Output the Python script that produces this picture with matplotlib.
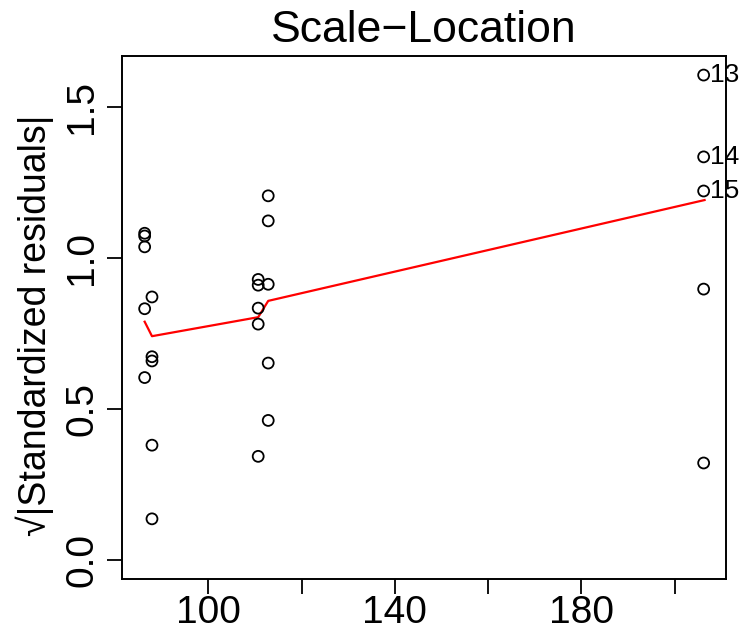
import matplotlib
matplotlib.use("Agg")
from matplotlib import pyplot as plt
import numpy as np

plt.rcParams['font.family'] = ['Liberation Sans', 'DejaVu Sans']

# values (fitted values vs sqrt|standardized residuals|)
obsIds = list(range(1, 26))
fitted = [86.36, 86.36, 86.36, 86.36, 86.36,
          87.93, 87.93, 87.93, 87.93, 87.93,
          206.2, 206.2, 206.2, 206.2, 206.2,
          110.7, 110.7, 110.7, 110.7, 110.7,
          112.85, 112.85, 112.85, 112.85, 112.85]
sqrtStdRes = [1.082, 1.073, 1.037, 0.832, 0.604,
              0.871, 0.673, 0.659, 0.380, 0.136,
              0.897, 0.321, 1.606, 1.335, 1.222,
              0.929, 0.910, 0.834, 0.781, 0.343,
              1.206, 1.123, 0.913, 0.652, 0.462]
labelIds = [13, 14, 15]

# red smoother as drawn
smoothX = [86.36, 87.93, 110.7, 112.85, 206.4]
smoothY = [0.789, 0.741, 0.804, 0.858, 1.192]

fig = plt.figure(figsize=(7.48, 6.37), dpi=100)
ax = fig.add_axes([0.1635, 0.0906, 0.8071, 0.8220])

ax.scatter(fitted, sqrtStdRes, s=62, facecolors='none', edgecolors='black', linewidths=1.3, zorder=3)
ax.plot(smoothX, smoothY, color='red', lw=1.6, zorder=2)

for i in labelIds:
    ax.annotate(str(i), (fitted[i - 1], sqrtStdRes[i - 1]), xytext=(4.5, 0), textcoords='offset points',
                ha='left', va='center', fontsize=19)

# R style limits: data range plus 4%
xr = max(fitted) - min(fitted)
ax.set_xlim(min(fitted) - 0.04 * xr, max(fitted) + 0.04 * xr)
ymax = max(sqrtStdRes)
ax.set_ylim(-0.04 * ymax, 1.04 * ymax)

ax.set_xticks([100, 120, 140, 160, 180, 200])
ax.set_xticklabels(['100', '', '140', '', '180', ''])
ax.set_yticks([0.0, 0.5, 1.0, 1.5])
ax.set_yticklabels(['0.0', '0.5', '1.0', '1.5'], rotation=90, va='center')

ax.tick_params(axis='x', length=11, width=1.3, labelsize=28, pad=0.5)
ax.tick_params(axis='y', length=10.5, width=1.3, labelsize=28, pad=5.4)
for sp in ax.spines.values():
    sp.set_linewidth(1.4)

ax.set_title('Scale\u2212Location', fontsize=32, pad=10)
ax.set_ylabel('\u221a|Standardized residuals|', fontsize=27, labelpad=7)
ax.yaxis.label.set_y(0.486)

fig.savefig('out.png', dpi=100)
